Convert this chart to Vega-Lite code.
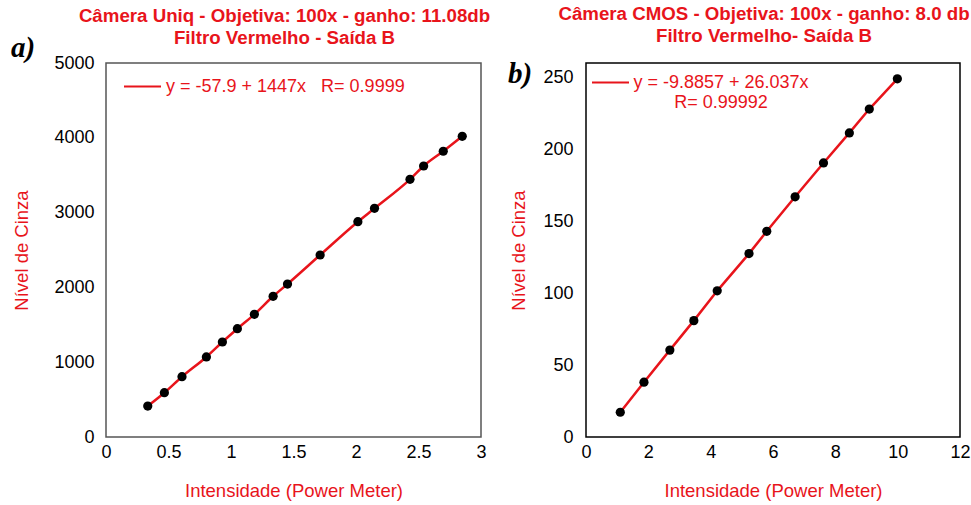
{
  "$schema": "https://vega.github.io/schema/vega-lite/v6.json",
  "background": "white",
  "padding": {"left": 10, "top": 3, "right": 0, "bottom": 0},
  "datasets": {
    "uniq": [
      {"x": 0.334, "y": 414}, {"x": 0.467, "y": 592}, {"x": 0.608, "y": 806},
      {"x": 0.803, "y": 1070}, {"x": 0.931, "y": 1270}, {"x": 1.051, "y": 1448},
      {"x": 1.187, "y": 1640}, {"x": 1.337, "y": 1881}, {"x": 1.452, "y": 2045},
      {"x": 1.713, "y": 2433}, {"x": 2.015, "y": 2878}, {"x": 2.148, "y": 3057},
      {"x": 2.432, "y": 3445}, {"x": 2.541, "y": 3623}, {"x": 2.698, "y": 3820},
      {"x": 2.85, "y": 4020}
    ],
    "cmos": [
      {"x": 1.10, "y": 17.2}, {"x": 1.86, "y": 38.1}, {"x": 2.69, "y": 60.4},
      {"x": 3.46, "y": 80.9}, {"x": 4.21, "y": 101.6}, {"x": 5.23, "y": 127.5},
      {"x": 5.80, "y": 143}, {"x": 6.71, "y": 167}, {"x": 7.62, "y": 190.5},
      {"x": 8.45, "y": 211.4}, {"x": 9.09, "y": 228}, {"x": 9.99, "y": 249}
    ]
  },
  "config": {
    "font": "Liberation Sans",
    "view": {"stroke": "#222", "strokeWidth": 1.5},
    "axis": {
      "grid": false, "ticks": false, "domain": false, "labelFlush": false,
      "labelFont": "Liberation Sans", "labelFontSize": 18, "labelColor": "#000",
      "titleFont": "Liberation Sans", "titleFontSize": 18.5, "titleColor": "#e8141b", "titleFontWeight": "normal"
    },
    "title": {"font": "Liberation Sans", "fontSize": 18.7, "fontWeight": "bold", "color": "#e8141b", "anchor": "middle", "lineHeight": 22, "frame": "group", "dx": -9},
    "legend": {"labelFont": "Liberation Sans", "labelFontSize": 18, "labelColor": "#e8141b", "labelLimit": 0, "padding": 0}
  },
  "spacing": 16,
  "hconcat": [
    {
      "width": 375, "height": 374,
      "view": {"stroke": "#555"},
      "title": {"text": ["Câmera Uniq - Objetiva: 100x - ganho: 11.08db", "Filtro Vermelho - Saída B"], "offset": -14},
      "layer": [
        {
          "data": {"name": "uniq"},
          "mark": {"type": "line", "color": "#e8141b", "strokeWidth": 2.5, "interpolate": "monotone"},
          "encoding": {
            "x": {"field": "x", "type": "quantitative", "scale": {"domain": [0, 3]}, "axis": {"title": "Intensidade (Power Meter)", "values": [0, 0.5, 1, 1.5, 2, 2.5, 3], "format": "~g", "labelPadding": 6, "titlePadding": 20}},
            "y": {"field": "y", "type": "quantitative", "scale": {"domain": [0, 5000]}, "axis": {"title": "Nível de Cinza", "values": [0, 1000, 2000, 3000, 4000, 5000], "format": "d", "labelPadding": 12, "titlePadding": 22}},
            "stroke": {"datum": "y = -57.9 + 1447x\u00a0\u00a0\u00a0R= 0.9999", "type": "nominal", "scale": {"range": ["#e8141b"]},
              "legend": {"title": null, "orient": "none", "legendX": 17, "legendY": 4, "symbolType": "stroke", "symbolSize": 1369, "symbolStrokeWidth": 2, "labelOffset": 4}}
          }
        },
        {
          "data": {"name": "uniq"},
          "mark": {"type": "circle", "color": "#000", "opacity": 1, "size": 85},
          "encoding": {"x": {"field": "x", "type": "quantitative"}, "y": {"field": "y", "type": "quantitative"}}
        },
        {
          "data": {"values": [{"t": "a)"}]},
          "mark": {"type": "text", "font": "Liberation Serif", "fontSize": 29, "fontWeight": "bold", "fontStyle": "italic", "align": "left", "baseline": "alphabetic", "dx": -95, "dy": -6, "clip": false},
          "encoding": {"text": {"field": "t"}, "x": {"datum": 0}, "y": {"datum": 5000}}
        }
      ]
    },
    {
      "width": 374, "height": 374,
      "view": {"stroke": "#000"},
      "title": {"text": ["Câmera CMOS - Objetiva: 100x - ganho: 8.0 db", "Filtro Vermelho- Saída B"], "offset": 15},
      "layer": [
        {
          "data": {"name": "cmos"},
          "mark": {"type": "line", "color": "#e8141b", "strokeWidth": 2.5},
          "encoding": {
            "x": {"field": "x", "type": "quantitative", "scale": {"domain": [0, 12]}, "axis": {"title": "Intensidade (Power Meter)", "values": [0, 2, 4, 6, 8, 10, 12], "format": "d", "labelPadding": 6, "titlePadding": 20}},
            "y": {"field": "y", "type": "quantitative", "scale": {"domain": [0, 250]}, "axis": {"title": "Nível de Cinza", "values": [0, 50, 100, 150, 200, 250], "format": "d", "labelPadding": 13, "titlePadding": 14}},
            "stroke": {"datum": "y = -9.8857 + 26.037x", "type": "nominal", "scale": {"range": ["#e8141b"]},
              "legend": {"title": null, "orient": "none", "legendX": 5, "legendY": 0, "symbolType": "stroke", "symbolSize": 1369, "symbolStrokeWidth": 2, "labelOffset": 91,
                "labelExpr": "[datum.label, 'R= 0.99992']", "labelAlign": "center", "labelBaseline": "middle"}}
          }
        },
        {
          "data": {"name": "cmos"},
          "mark": {"type": "circle", "color": "#000", "opacity": 1, "size": 85},
          "encoding": {"x": {"field": "x", "type": "quantitative"}, "y": {"field": "y", "type": "quantitative"}}
        },
        {
          "data": {"values": [{"t": "b)"}]},
          "mark": {"type": "text", "font": "Liberation Serif", "fontSize": 29, "fontWeight": "bold", "fontStyle": "italic", "align": "left", "baseline": "alphabetic", "dx": -78, "dy": 6, "clip": false},
          "encoding": {"text": {"field": "t"}, "x": {"datum": 0}, "y": {"datum": 250}}
        }
      ]
    }
  ],
  "resolve": {"scale": {"stroke": "independent"}}
}
